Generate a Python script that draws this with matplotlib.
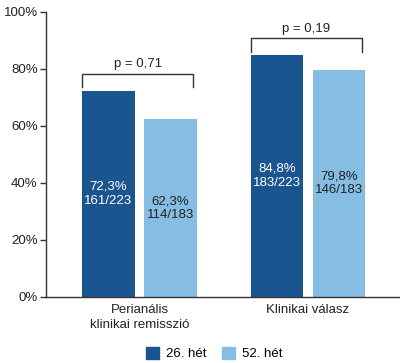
import numpy as np
import matplotlib
matplotlib.use("Agg")
import matplotlib.pyplot as plt
from matplotlib.patches import Patch

plt.rcParams['font.family'] = ['Liberation Sans', 'DejaVu Sans']

categories = ["Perianális\nklinikai remisszió", "Klinikai válasz"]
series_names = ["26. hét", "52. hét"]
week26 = [72.3, 84.8]
week52 = [62.3, 79.8]
counts26 = ["161/223", "183/223"]
counts52 = ["114/183", "146/183"]
p_values = ["p = 0,71", "p = 0,19"]
yticks = [0, 20, 40, 60, 80, 100]

dark = "#1b5590"
light = "#86bde3"
fs = 9.5

fig = plt.figure(figsize=(4.0, 3.63), dpi=100)
ax = fig.add_axes([0.115, 0.182, 0.885, 0.785])

x = np.arange(len(categories))
w = 0.31
off = 0.184
ax.bar(x - off, week26, w, color=dark, label=series_names[0])
ax.bar(x + off, week52, w, color=light, label=series_names[1])

for i in range(len(categories)):
    ax.text(x[i] - off, week26[i] / 2, f"{week26[i]:.1f}%".replace(".", ",") + "\n" + counts26[i],
            ha="center", va="center", color="white", fontsize=fs, linespacing=1.25)
    ax.text(x[i] + off, week52[i] / 2, f"{week52[i]:.1f}%".replace(".", ",") + "\n" + counts52[i],
            ha="center", va="center", color="#222222", fontsize=fs, linespacing=1.25)

# significance brackets
for i in range(len(categories)):
    top = max(week26[i], week52[i]) + 6
    x0 = x[i] - off - w / 2
    x1 = x[i] + off + w / 2 - 0.02
    ax.plot([x0, x0, x1, x1], [top - 4.7, top, top, top - 4.7], color="#333333", lw=1)
    ax.text((x0 + x1) / 2, top + 1.2, p_values[i], ha="center", va="bottom", fontsize=fs, color="#222222")

ax.set_xlim(-0.555, 1.546)
ax.set_ylim(0, 100)
ax.set_yticks(yticks)
ax.set_yticklabels([f"{t}%" for t in yticks], fontsize=fs, color="#222222")
ax.set_xticks(x)
ax.set_xticklabels(categories, fontsize=fs, color="#222222", linespacing=1.35)
ax.tick_params(axis="x", length=0, pad=5)
ax.tick_params(axis="y", length=4, width=1, color="#333333", pad=2)
for s in ["top", "right"]:
    ax.spines[s].set_visible(False)
for s in ["left", "bottom"]:
    ax.spines[s].set_color("#333333")
    ax.spines[s].set_linewidth(1)

handles = [Patch(color=dark, label=series_names[0]), Patch(color=light, label=series_names[1])]
fig.legend(handles=handles, loc="lower center", bbox_to_anchor=(0.535, -0.025), ncol=2, frameon=False,
           fontsize=fs, handlelength=1.0, handleheight=1.0, columnspacing=1.2, handletextpad=0.5)

fig.savefig("out.png", dpi=100)
